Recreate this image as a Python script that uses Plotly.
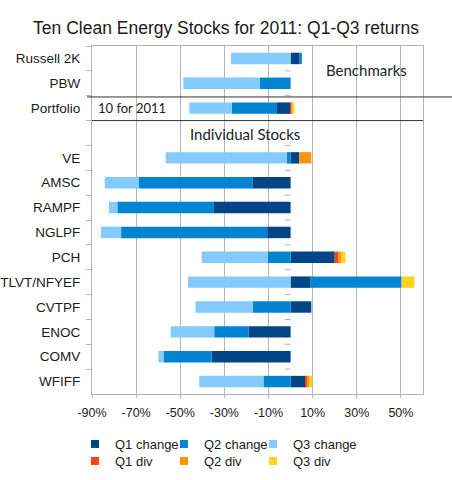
import plotly.graph_objects as go

categories = ["Russell 2K", "PBW", "Portfolio", " ", "VE", "AMSC", "RAMPF", "NGLPF",
              "PCH", "TLVT/NFYEF", "CVTPF", "ENOC", "COMV", "WFIFF"]

q1_change = [4.1, None, -6.5, None, 3.9, -17.3, -35.0, -10.6, 20.0, 9.1, 9.4, -19.1, -35.8, 6.7]
q2_change = [1.0, -13.9, -20.2, None, -1.7, -51.4, -43.5, -66.2, -10.3, 41.2, -17.1, -15.5, -21.8, -12.3]
q3_change = [-27.0, -34.7, -19.2, None, -54.9, -15.5, -3.8, -9.1, -30.0, -46.5, -26.0, -19.7, -2.3, -29.1]
q1_div = [None, None, 0.2, None, None, None, None, None, 1.7, None, None, None, None, 0.7]
q2_div = [None, None, 0.5, None, 5.5, None, None, None, 1.2, None, None, None, None, 1.2]
q3_div = [None, None, 1.0, None, None, None, None, None, 1.9, 5.8, None, None, None, 1.2]

tick_values = [-90, -70, -50, -30, -10, 10, 30, 50]
tick_labels = ["-90%", "-70%", "-50%", "-30%", "-10%", "10%", "30%", "50%"]

series = [
    ("Q1 change", q1_change, "#004586"),
    ("Q2 change", q2_change, "#0084d1"),
    ("Q3 change", q3_change, "#83caff"),
    ("Q1 div", q1_div, "#ff420e"),
    ("Q2 div", q2_div, "#ff950e"),
    ("Q3 div", q3_div, "#ffd320"),
]

FONT = "Liberation Sans, Arial, sans-serif"
ANN_FONT = "Lato, Open Sans, sans-serif"
GRID = "#b3b3b3"
W, H = 452, 480

fig = go.Figure()
for name, vals, color in series:
    fig.add_trace(go.Bar(
        y=categories, x=vals, name=name, orientation="h",
        marker=dict(color=color, line=dict(width=0)),
        width=0.46, showlegend=False, hoverinfo="x+name",
    ))

# legend: one small legend per entry, arranged in a 3 x 2 grid
legend_ids = ["legend", "legend2", "legend3", "legend4", "legend5", "legend6"]
col_left = [75, 164, 253]
row_mid = [444, 461]
legend_layouts = {}
for i, (name, vals, color) in enumerate(series):
    lid = legend_ids[i]
    fig.add_trace(go.Scatter(
        x=[None], y=[None], mode="markers", name=name,
        marker=dict(symbol="square", size=8, color=color),
        showlegend=True, legend=lid,
    ))
    r, c = divmod(i, 3)
    legend_layouts[lid] = dict(
        x=col_left[c] / W, xref="container", xanchor="left",
        y=1 - row_mid[r] / H, yref="container", yanchor="middle",
        font=dict(family=FONT, size=13, color="#1a1a1a"),
        bgcolor="rgba(0,0,0,0)", borderwidth=0,
    )

shapes = []
# small tick marks at the zero (category) axis, at category boundaries
for k in range(len(categories) - 1):
    shapes.append(dict(type="line", xref="x", yref="y", x0=-2.7, x1=0,
                       y0=k + 0.5, y1=k + 0.5, line=dict(color=GRID, width=1), layer="above"))
# separator lines
shapes.append(dict(type="line", xref="paper", yref="y", x0=-0.015, x1=1.09,
                   y0=1.55, y1=1.55, line=dict(color="#333333", width=1)))
shapes.append(dict(type="line", xref="paper", yref="y", x0=0, x1=1,
                   y0=2.5, y1=2.5, line=dict(color="#333333", width=1)))

annotations = [
    dict(text="Benchmarks", xref="paper", yref="y", x=0.828, y=0.47, showarrow=False,
         font=dict(family=ANN_FONT, size=15, color="#222222"), xanchor="center", yanchor="middle"),
    dict(text="10 for 2011", xref="paper", yref="y", x=0.012, y=2.0, showarrow=False,
         font=dict(family=ANN_FONT, size=13, color="#222222"), xanchor="left", yanchor="middle"),
    dict(text="Individual Stocks", xref="paper", yref="y", x=0.462, y=3.05, showarrow=False,
         font=dict(family=ANN_FONT, size=15, color="#222222"), xanchor="center", yanchor="middle"),
]

fig.update_layout(
    width=W, height=H,
    margin=dict(l=92, r=29, t=46, b=86, autoexpand=False),
    paper_bgcolor="white", plot_bgcolor="white",
    barmode="relative",
    font=dict(family=FONT, size=12, color="#1a1a1a"),
    title=dict(text="Ten Clean Energy Stocks for 2011: Q1-Q3 returns",
               x=0.5, xref="container", xanchor="center",
               y=1 - 28 / H, yref="container", yanchor="middle",
               font=dict(family=FONT, size=17.5, color="#1a1a1a")),
    xaxis=dict(range=[-90, 60], tickvals=tick_values, ticktext=tick_labels,
               showgrid=True, gridcolor=GRID, gridwidth=1, zeroline=False,
               showline=True, mirror=True, linecolor=GRID, linewidth=1,
               ticks="outside", ticklen=3, tickcolor=GRID,
               tickfont=dict(family=FONT, size=12.5, color="#1a1a1a"),
               ticklabelstandoff=4),
    yaxis=dict(categoryorder="array", categoryarray=categories,
               range=[len(categories) - 0.5, -0.5], type="category",
               showgrid=False, zeroline=False,
               showline=True, mirror=True, linecolor=GRID, linewidth=1,
               ticks="outside", tickson="boundaries", ticklen=5, tickcolor=GRID,
               tickfont=dict(family=FONT, size=13.5, color="#1a1a1a"),
               ticklabelstandoff=8),
    showlegend=True,
    shapes=shapes, annotations=annotations,
    **legend_layouts,
)

fig.write_html("out.html")
